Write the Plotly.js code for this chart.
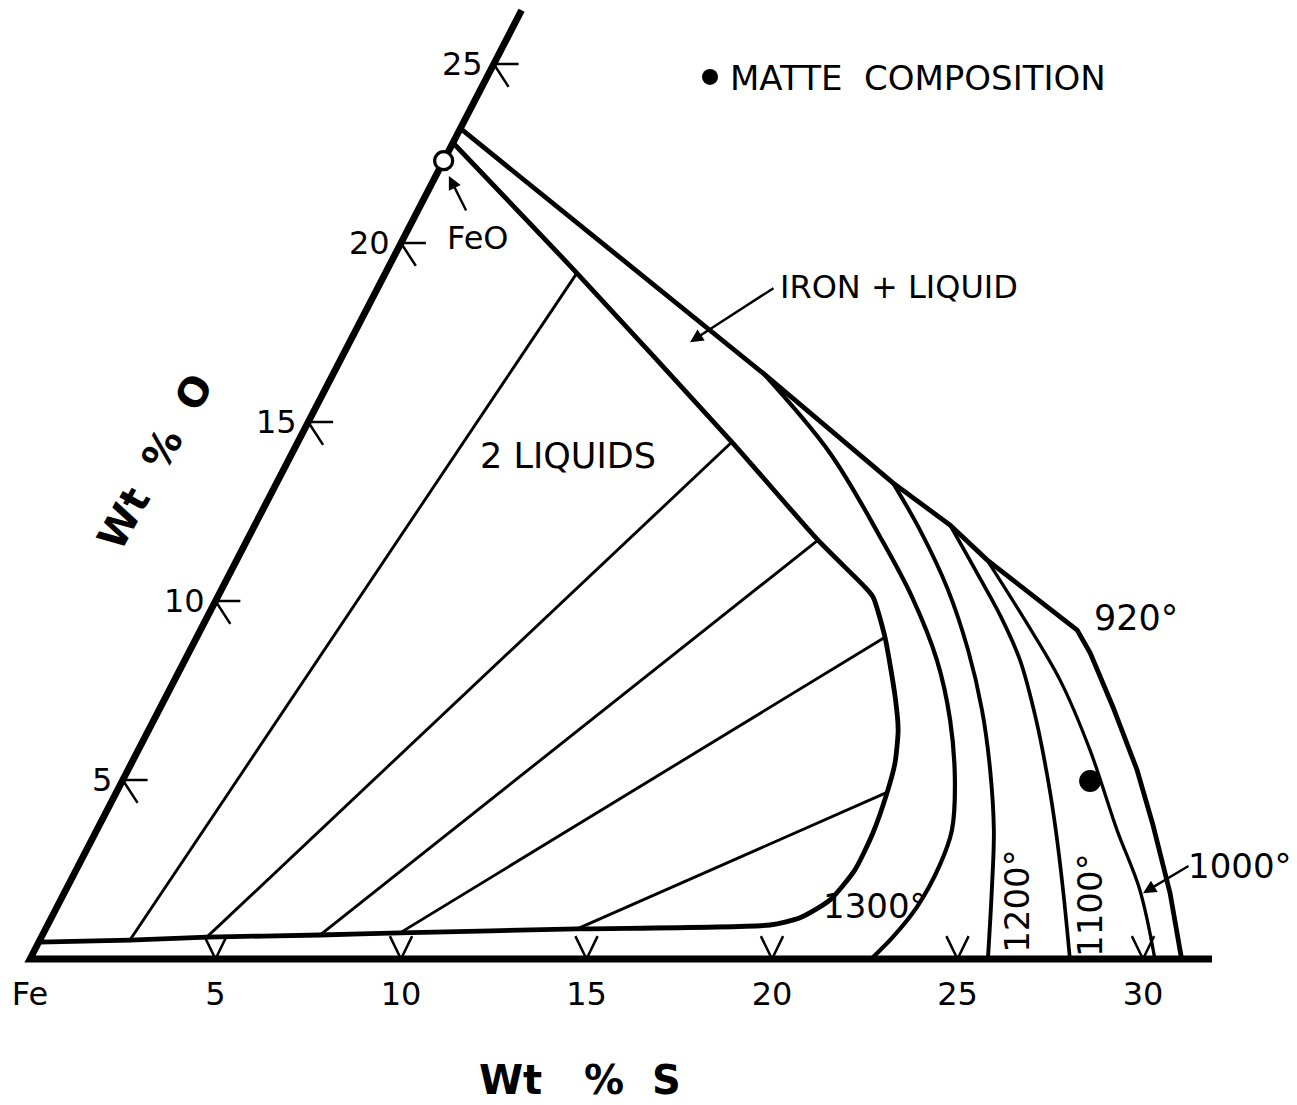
<!DOCTYPE html>
<html>
<head>
<meta charset="utf-8">
<script src="https://cdn.plot.ly/plotly-3.0.1.min.js"></script>
<style>html,body{margin:0;padding:0;background:#fff;}</style>
</head>
<body>
<div id="chart" style="width:1297px;height:1105px;"></div>
<script>
// ---------- data (wt% S, wt% O) ----------
const sTicks = [0, 5, 10, 15, 20, 25, 30];
const sTickLabels = ['Fe', '5', '10', '15', '20', '25', '30'];
const sMarkTicks = [5, 10, 15, 20, 25, 30];
const oTicks = [5, 10, 15, 20, 25];
const oTickLabels = ['5', '10', '15', '20', '25'];
const sAxisEnd = 31.86;
const oAxisEnd = 26.5;

// 920 deg isotherm (outer boundary)
const liq920S = [0, 11.6, 16.61, 18.74, 20.22, 23.63, 24.30, 25.67, 27.20, 28.40, 29.81, 31.04];
const liq920O = [23.2, 16.35, 13.30, 12.12, 11.15, 9.19, 8.55, 7.04, 5.28, 3.74, 1.84, 0];

// two-liquid miscibility gap (1300 deg)
const gapS = [0, 5.16, 11.70, 15.39, 17.31, 17.67, 18.55, 19.66, 20.20, 20.58, 20.78, 20.96, 20.99, 20.74, 20.18, 19.47, 14.33, 9.61, 7.48, 4.46, 2.43, 0];
const gapO = [22.8, 19.16, 14.44, 11.70, 10.39, 10.11, 8.99, 7.32, 6.40, 5.47, 4.64, 3.52, 2.49, 1.65, 1.15, 0.95, 0.84, 0.73, 0.67, 0.61, 0.53, 0.47];

// tie lines (metal-rich end -> oxide-rich end)
const tieMetalS = [2.43, 4.46, 7.48, 9.61, 14.33];
const tieMetalO = [0.53, 0.61, 0.67, 0.73, 0.84];
const tieOxideS = [5.16, 11.70, 15.39, 18.55, 20.75];
const tieOxideO = [19.16, 14.44, 11.70, 8.99, 4.64];

// isotherms
const liq1300S = [11.6, 14.50, 17.02, 18.72, 20.27, 21.46, 22.43, 23.05, 23.21, 23.18, 22.95, 22.67];
const liq1300O = [16.35, 14.13, 11.79, 10.11, 8.35, 6.68, 5.00, 3.60, 2.63, 1.45, 0.61, 0];
const liq1200S = [16.61, 18.0, 19.59, 20.97, 22.18, 23.24, 24.18, 24.96, 25.82];
const liq1200O = [13.30, 11.98, 10.31, 8.63, 6.96, 5.28, 3.60, 1.93, 0];
const liq1100S = [18.74, 20.19, 21.34, 22.51, 23.78, 24.94, 25.85, 26.88, 28.03];
const liq1100O = [12.12, 10.73, 9.61, 8.35, 6.68, 5.00, 3.60, 1.93, 0];
const liq1000S = [20.22, 22.08, 23.87, 25.65, 27.50, 28.95, 30.32];
const liq1000O = [11.15, 9.47, 7.79, 5.84, 3.60, 1.93, 0];

// points
const matteS = [26.09];
const matteO = [4.97];
const feoS = [0];
const feoO = [22.3];

// ---------- oblique projection: x = S + shear*O, y = O ----------
const SHEAR = 0.5;
const X = (S, O) => S.map((s, i) => s + SHEAR * O[i]);
const FONT = 'DejaVu Sans, Liberation Sans, sans-serif';
const BLACK = '#000';

function curve(S, O, width, shape, smoothing) {
  return {
    type: 'scatter', mode: 'lines', x: X(S, O), y: O.slice(),
    line: {color: BLACK, width: width, shape: shape || 'linear', smoothing: smoothing || 0},
    hoverinfo: 'skip', showlegend: false
  };
}

const traces = [];
// axis lines
traces.push(curve([sAxisEnd, 0, 0], [0, 0, oAxisEnd], 6.8));

// tick marks on the S axis (V shapes) and O axis
const vx = [], vy = [];
sMarkTicks.forEach(s => { vx.push(s - 0.30, s, s + 0.30, null); vy.push(0.64, 0, 0.64, null); });
traces.push({type: 'scatter', mode: 'lines', x: vx, y: vy, line: {color: BLACK, width: 2.5}, hoverinfo: 'skip', showlegend: false});
const ox = [], oy = [];
oTicks.forEach(o => { const b = SHEAR * o; ox.push(b + 0.67, b, b + 0.40, null); oy.push(o, o, o - 0.64, null); });
traces.push({type: 'scatter', mode: 'lines', x: ox, y: oy, line: {color: BLACK, width: 2.5}, hoverinfo: 'skip', showlegend: false});

// boundaries
traces.push(curve(liq920S, liq920O, 4.8, 'linear'));
traces.push(curve(gapS, gapO, 4.8, 'spline', 0.6));
traces.push(curve(liq1300S, liq1300O, 4.2, 'spline', 1));
traces.push(curve(liq1200S, liq1200O, 3.9, 'spline', 1));
traces.push(curve(liq1100S, liq1100O, 3.7, 'spline', 1));
traces.push(curve(liq1000S, liq1000O, 3.3, 'spline', 1));

// tie lines
const tx = [], ty = [];
tieMetalS.forEach((s, i) => {
  tx.push(s + SHEAR * tieMetalO[i], tieOxideS[i] + SHEAR * tieOxideO[i], null);
  ty.push(tieMetalO[i], tieOxideO[i], null);
});
traces.push({type: 'scatter', mode: 'lines', x: tx, y: ty, line: {color: BLACK, width: 2.9}, hoverinfo: 'skip', showlegend: false});

// FeO point
traces.push({type: 'scatter', mode: 'markers', x: X(feoS, feoO), y: feoO,
  marker: {symbol: 'circle', size: 18, color: '#fff', line: {color: BLACK, width: 3.2}},
  hoverinfo: 'skip', showlegend: false});
// matte composition
traces.push({type: 'scatter', mode: 'markers', name: 'MATTE  COMPOSITION', x: X(matteS, matteO), y: matteO,
  marker: {symbol: 'circle', size: 22, color: BLACK}, hoverinfo: 'skip', showlegend: true});

// ---------- annotations ----------
const ann = [];
oTicks.forEach((o, i) => ann.push({x: SHEAR * o, y: o, text: oTickLabels[i], xanchor: 'right', yanchor: 'middle',
  xshift: -9, showarrow: false, font: {family: FONT, size: 32, color: BLACK}}));

function label(x, y, text, size, extra) {
  ann.push(Object.assign({x: x, y: y, text: text, showarrow: false, xanchor: 'center', yanchor: 'middle',
    font: {family: FONT, size: size, color: BLACK}}, extra || {}));
}
function arrow(x, y, ax, ay) {
  ann.push({x: x, y: y, ax: ax, ay: ay, showarrow: true, arrowhead: 2, arrowsize: 1.1, arrowwidth: 2.4,
    arrowcolor: BLACK, text: ''});
}
label(14.50, 14.05, '2 LIQUIDS', 35);
label(23.42, 18.77, 'IRON + LIQUID', 32);
arrow(17.79, 17.23, 85, -55);
label(12.08, 20.14, 'FeO', 32);
arrow(11.29, 21.87, 18, 36);
label(29.81, 9.53, '920°', 35);
label(22.78, 1.48, '1300°', 34);
label(26.60, 1.62, '1200°', 34, {textangle: -90});
label(28.57, 1.51, '1100°', 34, {textangle: -90});
label(32.61, 2.60, '1000°', 34);
arrow(30.0, 1.84, 47, -28);
ann.push({x: 14.82, y: -3.38, text: 'Wt\u00a0\u00a0\u00a0%\u00a0\u00a0S', showarrow: false, xanchor: 'center', yanchor: 'middle',
  font: {family: FONT, size: 40, color: BLACK, weight: 'bold'}});
ann.push({x: 3.37, y: 13.88, text: 'Wt\u00a0\u00a0%\u00a0\u00a0O', showarrow: false, xanchor: 'center', yanchor: 'middle',
  textangle: -61, font: {family: FONT, size: 40, color: BLACK, weight: 'bold'}});

const layout = {
  width: 1297, height: 1105,
  margin: {l: 0, r: 0, t: 0, b: 0},
  paper_bgcolor: '#fff', plot_bgcolor: '#fff',
  font: {family: FONT, color: BLACK},
  xaxis: {range: [-0.8086, 34.151], anchor: 'free', position: 0.1330,
    showgrid: false, zeroline: false, showline: false, ticks: '',
    tickmode: 'array', tickvals: sTicks, ticktext: sTickLabels, ticklabelstandoff: 14,
    tickfont: {family: FONT, size: 32, color: BLACK}, fixedrange: true},
  yaxis: {range: [-4.078, 26.788], visible: false, fixedrange: true},
  showlegend: true,
  legend: {x: 0.532, y: 0.930, xanchor: 'left', yanchor: 'middle', bgcolor: 'rgba(0,0,0,0)',
    font: {family: FONT, size: 34, color: BLACK}, itemsizing: 'trace'},
  annotations: ann
};

Plotly.newPlot('chart', traces, layout, {displayModeBar: false, staticPlot: true});
</script>
</body>
</html>
